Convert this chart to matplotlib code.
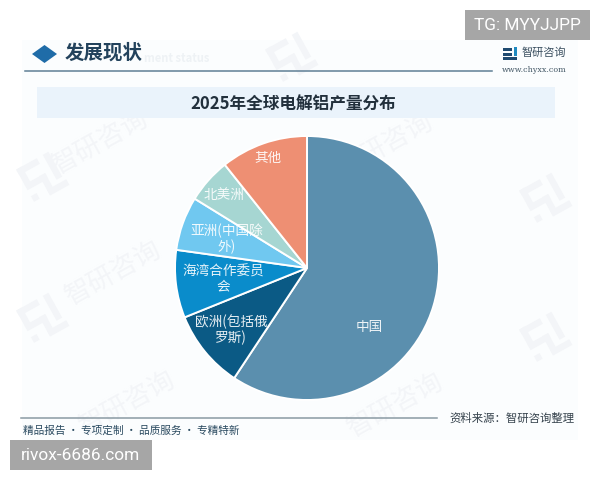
import matplotlib
matplotlib.use("Agg")
import numpy as np
import matplotlib.pyplot as plt
from matplotlib.patches import Rectangle, Polygon
from matplotlib.transforms import Affine2D

plt.rcParams['font.family'] = ['Noto Sans CJK SC', 'DejaVu Sans']

regions = ['中国', '欧洲(包括俄\n罗斯)', '海湾合作委员\n会', '亚洲(中国除\n外)', '北美洲', '其他']
shares = [59.3, 9.6, 8.3, 6.6, 5.5, 10.7]
slice_colors = ['#5b8fae', '#0b5a85', '#0a8ccb', '#70c8f0', '#a6d6d2', '#ee8f73']
label_offsets = [(0.475, -0.445), (-0.573, -0.467), (-0.631, -0.083), (-0.606, 0.22),
                 (-0.631, 0.553), (-0.298, 0.831)]

W, H = 600, 480
fig = plt.figure(figsize=(W / 100, H / 100), dpi=100, facecolor='white')

# Pixel-space layer for the page furniture
bg = fig.add_axes([0, 0, 1, 1])
bg.set_xlim(0, W)
bg.set_ylim(H, 0)
bg.axis('off')

bg.add_patch(Rectangle((22, 40), 556, 400, fc='#fbfdfe', ec='none', zorder=0))


def brand_mark(axis, x, y, size, color, angle, zorder):
    """Draw the brand glyph centred on (x, y), rotated by angle degrees."""
    rot = Affine2D().scale(size).rotate_deg(-angle).translate(x, y) + axis.transData
    bars = [(-0.5, -0.5, 0.62, 0.17), (-0.5, -0.5, 0.17, 0.5), (-0.5, -0.05, 0.62, 0.17),
            (-0.05, -0.05, 0.17, 0.55), (0.3, -0.5, 0.17, 0.75), (-0.05, 0.36, 0.58, 0.17),
            (-0.5, 0.3, 0.17, 0.17)]
    for bx, by, bw, bh in bars:
        axis.add_patch(Rectangle((bx, by), bw, bh, fc=color, ec='none', zorder=zorder,
                                 transform=rot))


# Faint diagonal brand marks behind everything
for x, y in [(100, 142), (113, 273), (127, 403), (385, 145), (395, 405)]:
    bg.text(x, y, '智研咨询', fontsize=19, color='#f3f5f8', rotation=29,
            ha='center', va='center', zorder=1)
for x, y in [(42, 177), (42, 318), (545, 198), (545, 337), (291, 57)]:
    brand_mark(bg, x, y, 38, '#f3f5f8', 29, 1)

# Section header
bg.add_patch(Polygon([(32, 54), (44.5, 45), (57, 54), (44.5, 63)], fc='#1f6ca8', ec='none', zorder=3))
bg.text(65, 53, '发展现状', fontsize=14, fontweight='bold', color='#22425c',
        va='center', ha='left', zorder=3)
bg.text(144, 58, 'ment status', fontsize=8, fontweight='bold', color='#eef2f5',
        va='center', ha='left', zorder=2)
bg.plot([25, 492], [71, 71], color='#5f7f95', lw=1.1, zorder=3)
bg.add_patch(Rectangle((503, 48), 9, 3, fc='#1f4a70', ec='none', zorder=3))
bg.add_patch(Rectangle((503, 53), 9, 2.5, fc='#1f4a70', ec='none', zorder=3))
bg.add_patch(Rectangle((503, 57), 14, 2.5, fc='#1f4a70', ec='none', zorder=3))
bg.add_patch(Rectangle((514, 47), 3, 9, fc='#1f8ac0', ec='none', zorder=3))
bg.text(522, 53, '智研咨询', fontsize=8, color='#3a4f60', va='center', ha='left', zorder=3)
bg.text(502, 70, 'www.chyxx.com', fontsize=5.8, color='#445866', family='DejaVu Serif',
        va='center', ha='left', zorder=3)

# Title band
bg.add_patch(Rectangle((37, 87), 518, 31, fc='#eaf3fb', ec='none', zorder=2))
bg.text(293.5, 104.5, '2025年全球电解铝产量分布', fontsize=12, fontweight='bold',
        color='#22303c', ha='center', va='center', zorder=3)

# Footer
bg.plot([21, 437], [418, 418], color='#8a9aa3', lw=1.1, zorder=3)
bg.text(449, 418.5, '资料来源：智研咨询整理', fontsize=8.2, color='#36434d',
        va='center', ha='left', zorder=3)
bg.text(23, 431, '精品报告 · 专项定制 · 品质服务 · 专精特新', fontsize=7.7, color='#2a4a60',
        va='center', ha='left', zorder=3)

# Overlay tags
bg.add_patch(Rectangle((465, 10), 125, 30, fc='#a6a6a6', ec='none', zorder=5))
bg.text(527.5, 25, 'TG: MYYJJPP', fontsize=12.4, color='white', ha='center', va='center', zorder=6,
        family='Roboto')
bg.add_patch(Rectangle((10, 440), 142, 30, fc='#a6a6a6', ec='none', zorder=5))
bg.text(81, 455, 'rivox-6686.com', fontsize=12.4, color='white', ha='center', va='center', zorder=6,
        family='Roboto')

# Pie, 132 px radius around the chart centre
cx, cy, r = 307, 268, 132
ax = fig.add_axes([(cx - r) / W, 1 - (cy + r) / H, 2 * r / W, 2 * r / H])
ax.patch.set_alpha(0)
ax.pie(shares, colors=slice_colors, startangle=90, counterclock=False, radius=1,
       wedgeprops={'edgecolor': 'white', 'linewidth': 1.4})
ax.set_xlim(-1, 1)
ax.set_ylim(-1, 1)
for name, (dx, dy) in zip(regions, label_offsets):
    ax.text(dx, dy, name, color='white', alpha=0.9, fontsize=9.8, ha='center', va='center',
            linespacing=1.15, clip_on=False)

fig.savefig('out.png', dpi=100)
